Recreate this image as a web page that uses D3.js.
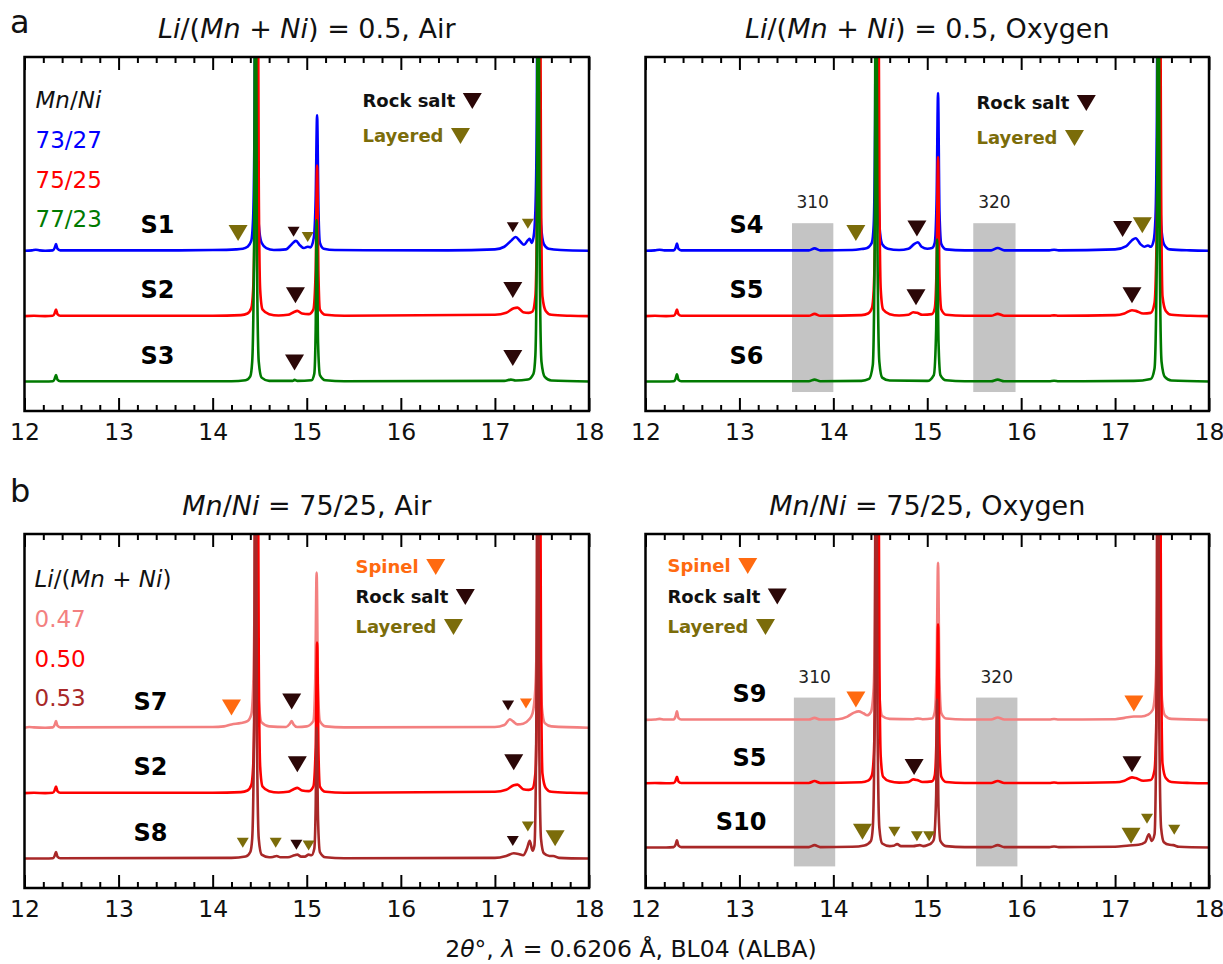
<!DOCTYPE html>
<html>
<head>
<meta charset="utf-8">
<script src="https://cdn.jsdelivr.net/npm/d3@7"></script>
<style>
  body { margin: 0; background: #fff; }
  text { font-family: "DejaVu Sans", sans-serif; }
</style>
</head>
<body>
<svg id="chart" width="1223" height="964"></svg>
<script>
// ---------- data (2theta, intensity above own baseline) ----------
const majorTicks = [12, 13, 14, 15, 16, 17, 18];

const s1 = [[12,0],[12.08,0.005],[12.12,0.015],[12.16,0.005],[12.22,0],[12.3,0.005],[12.32,0.04],[12.335,0.1],[12.35,0.03],[12.38,0.005],
  [13.5,0.005],[14.0,0.01],[14.25,0.02],[14.32,0.03],[14.37,0.06],[14.41,0.15],[14.43,0.5],[14.445,2],[14.46,9],[14.475,2],[14.49,0.4],[14.52,0.12],[14.57,0.04],[14.65,0.01],
  [14.78,0.02],[14.84,0.1],[14.885,0.15],[14.93,0.08],[14.97,0.04],[15.01,0.06],[15.04,0.05],[15.075,0.2],[15.095,0.8],[15.11,2.07],[15.125,0.6],[15.14,0.12],[15.18,0.03],[15.3,0.01],
  [16.5,0.005],[17.0,0.02],[17.1,0.06],[17.17,0.15],[17.22,0.21],[17.27,0.14],[17.31,0.09],[17.35,0.16],[17.37,0.18],[17.39,0.12],[17.41,0.2],[17.43,0.6],[17.445,2],[17.46,9],[17.475,2],[17.49,0.4],[17.52,0.1],[17.57,0.03],[17.7,0.01],[18,0]];

const s2 = [[12,0],[12.1,0.005],[12.22,0],[12.3,0.005],[12.32,0.04],[12.335,0.1],[12.35,0.03],[12.38,0.005],[14.0,0.005],[14.3,0.015],[14.37,0.04],[14.41,0.12],[14.43,0.4],[14.45,2],[14.47,9],[14.49,2],[14.505,0.4],[14.53,0.1],[14.6,0.03],[14.7,0.01],
  [14.8,0.02],[14.86,0.06],[14.9,0.08],[14.95,0.04],[15.02,0.03],[15.07,0.1],[15.095,0.7],[15.11,2.3],[15.125,0.6],[15.14,0.1],[15.2,0.02],[15.4,0.005],
  [17.0,0.02],[17.12,0.05],[17.2,0.12],[17.24,0.13],[17.3,0.06],[17.36,0.05],[17.4,0.07],[17.43,0.3],[17.45,2],[17.47,9],[17.49,2],[17.505,0.3],[17.54,0.08],[17.6,0.02],[17.8,0.005],[18,0]];

const s3 = [[12,0],[12.22,0],[12.3,0.005],[12.32,0.04],[12.335,0.1],[12.35,0.03],[12.38,0.005],[14.2,0.005],[14.35,0.02],[14.4,0.08],[14.42,0.3],[14.44,2],[14.455,9],[14.47,2],[14.49,0.3],[14.52,0.06],[14.6,0.01],
  [14.85,0.01],[14.87,0.025],[14.9,0.01],[15.05,0.02],[15.08,0.12],[15.095,0.8],[15.105,2.47],[15.12,0.6],[15.14,0.1],[15.2,0.02],[15.4,0.005],
  [17.1,0.01],[17.17,0.03],[17.22,0.015],[17.35,0.03],[17.41,0.12],[17.43,0.4],[17.445,2],[17.46,9],[17.475,2],[17.495,0.3],[17.53,0.07],[17.6,0.015],[18,0]];

const s4 = [[12,0],[12.1,0.005],[12.15,0.015],[12.2,0.005],[12.3,0.005],[12.32,0.04],[12.335,0.11],[12.35,0.03],[12.38,0.005],[13.0,0.005],[13.74,0.005],[13.8,0.035],[13.86,0.005],
  [14.2,0.01],[14.3,0.025],[14.36,0.04],[14.41,0.12],[14.43,0.4],[14.445,2],[14.46,9],[14.475,2],[14.49,0.4],[14.52,0.1],[14.58,0.03],[14.7,0.01],
  [14.8,0.03],[14.86,0.1],[14.9,0.13],[14.94,0.06],[15.0,0.03],[15.05,0.04],[15.08,0.12],[15.1,0.8],[15.115,2.41],[15.13,0.6],[15.15,0.1],[15.2,0.02],[15.4,0.005],
  [15.68,0.005],[15.75,0.04],[15.82,0.005],[16.3,0.005],[16.35,0.015],[16.4,0.005],
  [17.0,0.02],[17.12,0.07],[17.18,0.16],[17.22,0.19],[17.27,0.1],[17.31,0.06],[17.35,0.08],[17.38,0.06],[17.41,0.15],[17.43,0.5],[17.445,2],[17.46,9],[17.475,2],[17.49,0.4],[17.52,0.1],[17.58,0.02],[17.8,0.005],[18,0]];

const s5 = [[12,0],[12.1,0.005],[12.22,0],[12.3,0.005],[12.32,0.04],[12.335,0.1],[12.35,0.03],[12.38,0.005],[13,0.005],[13.74,0.005],[13.8,0.035],[13.86,0.005],
  [14.3,0.015],[14.37,0.04],[14.41,0.12],[14.43,0.4],[14.45,2],[14.47,9],[14.49,2],[14.505,0.4],[14.53,0.1],[14.6,0.03],[14.7,0.01],
  [14.8,0.02],[14.85,0.06],[14.89,0.05],[14.95,0.02],[15.05,0.03],[15.08,0.12],[15.1,0.8],[15.115,2.43],[15.13,0.6],[15.15,0.1],[15.2,0.02],[15.4,0.005],
  [15.68,0.005],[15.75,0.035],[15.82,0.005],[16.3,0.005],[16.35,0.012],[16.4,0.005],
  [17.0,0.015],[17.1,0.04],[17.18,0.09],[17.22,0.08],[17.3,0.04],[17.38,0.05],[17.42,0.2],[17.45,2],[17.47,9],[17.49,2],[17.505,0.3],[17.54,0.08],[17.6,0.02],[17.8,0.005],[18,0]];

const s6 = [[12,0],[12.22,0],[12.3,0.005],[12.32,0.04],[12.335,0.11],[12.35,0.03],[12.38,0.005],[13,0.005],[13.74,0.005],[13.8,0.03],[13.86,0.005],
  [14.3,0.01],[14.38,0.04],[14.42,0.25],[14.44,2],[14.455,9],[14.47,2],[14.49,0.3],[14.52,0.06],[14.6,0.015],
  [15.0,0.01],[15.07,0.1],[15.095,0.8],[15.105,2.17],[15.12,0.6],[15.14,0.1],[15.2,0.02],[15.4,0.005],
  [15.68,0.005],[15.75,0.03],[15.82,0.005],[16.3,0.005],[16.35,0.012],[16.4,0.005],
  [17.2,0.01],[17.38,0.04],[17.42,0.2],[17.445,2],[17.46,9],[17.475,2],[17.495,0.3],[17.53,0.07],[17.6,0.015],[18,0]];

const s7 = [[12,0],[12.05,0.01],[12.1,0.005],[12.22,0],[12.3,0.005],[12.32,0.04],[12.335,0.1],[12.35,0.03],[12.38,0.005],
  [14.0,0.01],[14.12,0.02],[14.2,0.05],[14.3,0.07],[14.37,0.1],[14.41,0.2],[14.43,0.6],[14.445,2],[14.46,9],[14.475,2],[14.49,0.4],[14.52,0.08],[14.6,0.02],
  [14.78,0.01],[14.82,0.06],[14.84,0.1],[14.86,0.05],[14.9,0.01],[15.0,0.02],[15.07,0.1],[15.09,0.7],[15.105,2.37],[15.12,0.6],[15.14,0.1],[15.2,0.02],[15.4,0.005],
  [17.0,0.01],[17.1,0.04],[17.16,0.13],[17.19,0.1],[17.24,0.05],[17.3,0.06],[17.36,0.12],[17.4,0.22],[17.43,0.6],[17.45,2],[17.465,9],[17.48,2],[17.5,0.3],[17.53,0.07],[17.6,0.02],[18,0]];

const s8 = [[12,0],[12.22,0],[12.3,0.005],[12.32,0.04],[12.335,0.1],[12.35,0.03],[12.38,0.005],
  [14.2,0.01],[14.35,0.03],[14.4,0.1],[14.42,0.3],[14.44,2],[14.455,9],[14.47,2],[14.49,0.3],[14.52,0.06],[14.6,0.02],[14.64,0.025],[14.68,0.04],[14.72,0.02],
  [14.8,0.02],[14.87,0.05],[14.9,0.06],[14.94,0.03],[14.98,0.03],[15.02,0.06],[15.05,0.05],[15.08,0.15],[15.095,0.8],[15.105,2.0],[15.12,0.6],[15.14,0.1],[15.2,0.02],[15.4,0.005],
  [17.0,0.01],[17.12,0.04],[17.2,0.08],[17.25,0.07],[17.3,0.05],[17.34,0.15],[17.37,0.27],[17.4,0.12],[17.42,0.2],[17.44,2],[17.455,9],[17.47,2],[17.49,0.3],[17.52,0.08],[17.58,0.04],[17.62,0.04],[17.68,0.01],[18,0]];

const s9 = [[12,0],[12.1,0.005],[12.15,0.015],[12.2,0.005],[12.3,0.005],[12.32,0.05],[12.335,0.13],[12.35,0.03],[12.38,0.005],[13.74,0.005],[13.8,0.03],[13.86,0.005],
  [14.05,0.01],[14.15,0.05],[14.22,0.11],[14.27,0.13],[14.32,0.1],[14.36,0.07],[14.4,0.12],[14.43,0.5],[14.445,2],[14.46,9],[14.475,2],[14.49,0.4],[14.52,0.06],[14.6,0.015],
  [14.85,0.01],[14.9,0.02],[14.95,0.01],[15.05,0.02],[15.08,0.12],[15.1,0.8],[15.115,2.4],[15.13,0.6],[15.15,0.1],[15.2,0.02],[15.4,0.005],
  [15.68,0.005],[15.75,0.035],[15.82,0.005],[16.3,0.005],[16.35,0.012],[16.4,0.005],
  [17.0,0.01],[17.1,0.03],[17.2,0.05],[17.28,0.05],[17.35,0.08],[17.4,0.15],[17.43,0.5],[17.45,2],[17.465,9],[17.48,2],[17.5,0.3],[17.53,0.07],[17.6,0.015],[18,0]];

const s10 = [[12,0],[12.22,0],[12.3,0.005],[12.32,0.04],[12.335,0.11],[12.35,0.03],[12.38,0.005],[13.74,0.005],[13.8,0.035],[13.86,0.005],
  [14.2,0.01],[14.33,0.03],[14.4,0.1],[14.42,0.3],[14.44,2],[14.455,9],[14.47,2],[14.49,0.3],[14.52,0.06],[14.6,0.02],[14.64,0.025],[14.68,0.05],[14.72,0.02],
  [14.85,0.02],[14.92,0.035],[14.96,0.02],[15.01,0.04],[15.04,0.06],[15.07,0.12],[15.095,0.8],[15.105,2.26],[15.12,0.6],[15.14,0.1],[15.2,0.02],[15.4,0.005],
  [15.68,0.005],[15.75,0.035],[15.82,0.005],[16.3,0.005],[16.35,0.015],[16.4,0.005],
  [17.0,0.01],[17.15,0.03],[17.25,0.04],[17.32,0.08],[17.36,0.2],[17.39,0.1],[17.42,0.2],[17.44,2],[17.455,9],[17.47,2],[17.49,0.3],[17.52,0.08],[17.58,0.04],[17.62,0.035],[17.68,0.01],[18,0]];

// vertical offsets of the three stacked patterns (top, middle, bottom)
const offsetsStd = [2, 1, 0];
const offsetsBR = [2.12, 1.15, 0.17];

// phase markers: [2theta, intensity, phase, size]
const markersAL = [[14.27,2.27,'Layered','big'],[14.86,2.29,'Rock salt','small'],[15.01,2.21,'Layered','small'],[17.19,2.36,'Rock salt','small'],[17.35,2.41,'Layered','small'],
  [14.88,1.32,'Rock salt','big'],[17.19,1.40,'Rock salt','big'],[14.87,0.29,'Rock salt','big'],[17.19,0.36,'Rock salt','big']];
const markersAR = [[14.24,2.27,'Layered','big'],[14.89,2.34,'Rock salt','big'],[17.08,2.33,'Rock salt','big'],[17.29,2.39,'Layered','big'],
  [14.88,1.29,'Rock salt','big'],[17.18,1.32,'Rock salt','big']];
const markersBL = [[14.20,2.31,'Spinel','big'],[14.84,2.40,'Rock salt','big'],[17.14,2.34,'Rock salt','small'],[17.33,2.37,'Spinel','small'],
  [14.90,1.44,'Rock salt','big'],[17.20,1.47,'Rock salt','big'],
  [14.32,0.24,'Layered','small'],[14.67,0.24,'Layered','small'],[14.89,0.21,'Rock salt','small'],[15.02,0.20,'Layered','small'],[17.19,0.27,'Rock salt','small'],[17.35,0.49,'Layered','small'],[17.64,0.31,'Layered','big']];
const markersBR = [[14.24,2.43,'Spinel','big'],[17.20,2.37,'Spinel','big'],[14.86,1.40,'Rock salt','big'],[17.18,1.44,'Rock salt','big'],
  [14.31,0.41,'Layered','big'],[14.65,0.41,'Layered','small'],[14.89,0.34,'Layered','small'],[15.02,0.34,'Layered','small'],[17.17,0.35,'Layered','big'],[17.34,0.61,'Layered','small'],[17.63,0.44,'Layered','small']];

// highlighted reflections: [label, from, to, yLow, yHigh]
const boxesAR = [['310',13.56,14.0,-0.16,2.42],['320',15.49,15.94,-0.16,2.42]];
const boxesBR = [['310',13.58,14.02,-0.12,2.46],['320',15.52,15.96,-0.12,2.46]];

// ---------- styles ----------
const phaseColor = { 'Spinel': '#ff6a10', 'Rock salt': '#2b0707', 'Layered': '#7b6c0a' };
const phaseText = { 'Spinel': '#ff6a10', 'Rock salt': '#111', 'Layered': '#7b6c0a' };
const triSize = { big: [19, 16], small: [12, 10] };

const panels = [
  { x0: 24.5, x1: 589, y0: 57, y1: 411,
    title: [['Li', 1], ['/(', 0], ['Mn', 1], [' + ', 0], ['Ni', 1], [') = 0.5, Air', 0]],
    traces: [['S1', s1, '#0000ff'], ['S2', s2, '#ff0000'], ['S3', s3, '#007a00']], offsets: offsetsStd,
    labelDx: 150, markers: markersAL, boxes: [],
    legendHead: [['Mn', 1], ['/', 0], ['Ni', 1]], legendItems: ['73/27', '75/25', '77/23'], legendX: 11, legendY: 51,
    phases: ['Rock salt', 'Layered'], phaseX: 338, phaseY: 44, phaseStep: 35 },
  { x0: 645.5, x1: 1209, y0: 57, y1: 411,
    title: [['Li', 1], ['/(', 0], ['Mn', 1], [' + ', 0], ['Ni', 1], [') = 0.5, Oxygen', 0]],
    traces: [['S4', s4, '#0000ff'], ['S5', s5, '#ff0000'], ['S6', s6, '#007a00']], offsets: offsetsStd,
    labelDx: 118, markers: markersAR, boxes: boxesAR,
    phases: ['Rock salt', 'Layered'], phaseX: 331, phaseY: 46, phaseStep: 35 },
  { x0: 24.5, x1: 589, y0: 534, y1: 888,
    title: [['Mn', 1], ['/', 0], ['Ni', 1], [' = 75/25, Air', 0]],
    traces: [['S7', s7, '#f38080'], ['S2', s2, '#ff0000'], ['S8', s8, '#a82828']], offsets: offsetsStd,
    labelDx: 143, markers: markersBL, boxes: [],
    legendHead: [['Li', 1], ['/(', 0], ['Mn', 1], [' + ', 0], ['Ni', 1], [')', 0]], legendItems: ['0.47', '0.50', '0.53'], legendX: 10, legendY: 53,
    phases: ['Spinel', 'Rock salt', 'Layered'], phaseX: 331, phaseY: 33, phaseStep: 30 },
  { x0: 645.5, x1: 1209, y0: 534, y1: 888,
    title: [['Mn', 1], ['/', 0], ['Ni', 1], [' = 75/25, Oxygen', 0]],
    traces: [['S9', s9, '#f38080'], ['S5', s5, '#ff0000'], ['S10', s10, '#a82828']], offsets: offsetsBR,
    labelDx: 121, markers: markersBR, boxes: boxesBR,
    phases: ['Spinel', 'Rock salt', 'Layered'], phaseX: 22, phaseY: 32, phaseStep: 30.5 }
];

const svg = d3.select('#chart');

function richText(sel, parts) {
  parts.forEach(([t, it]) => sel.append('tspan').attr('font-style', it ? 'italic' : 'normal').text(t));
  return sel;
}

function triPath(w, h) {
  return `M${-w / 2},${-h / 2}L${w / 2},${-h / 2}L0,${h / 2}Z`;
}

panels.forEach((p, i) => {
  const x = d3.scaleLinear().domain([12, 18]).range([p.x0, p.x1]);
  const y = d3.scaleLinear().domain([-0.45, 4.96]).range([p.y1, p.y0]);
  const g = svg.append('g');

  const clipId = 'clip' + i;
  svg.append('clipPath').attr('id', clipId).append('rect')
    .attr('x', p.x0).attr('y', p.y0).attr('width', p.x1 - p.x0).attr('height', p.y1 - p.y0);

  // highlighted reflection boxes
  p.boxes.forEach(([lab, a, b, lo, hi]) => {
    g.append('rect').attr('x', x(a)).attr('width', x(b) - x(a))
      .attr('y', y(hi)).attr('height', y(lo) - y(hi)).attr('fill', '#c4c4c4');
    g.append('text').attr('x', x((a + b) / 2)).attr('y', y(hi) - 15)
      .attr('text-anchor', 'middle').attr('font-size', 17).attr('fill', '#222').text(lab);
  });

  // diffraction patterns
  const line = d3.line().curve(d3.curveMonotoneX);
  const plot = g.append('g').attr('clip-path', `url(#${clipId})`);
  p.traces.forEach(([name, pts, color], k) => {
    const off = p.offsets[k];
    plot.append('path')
      .attr('d', line(pts.map(d => [x(d[0]), y(d[1] + off)])))
      .attr('fill', 'none').attr('stroke', color).attr('stroke-width', 2.6)
      .attr('stroke-linejoin', 'round');
    g.append('text').attr('x', p.x0 + p.labelDx).attr('y', y(off + 0.27))
      .attr('text-anchor', 'end').attr('font-weight', 'bold').attr('font-size', 24).text(name);
  });

  // phase markers
  g.selectAll('path.mk').data(p.markers).enter().append('path')
    .attr('class', 'mk')
    .attr('transform', d => `translate(${x(d[0])},${y(d[1])})`)
    .attr('d', d => triPath(...triSize[d[3]]))
    .attr('fill', d => phaseColor[d[2]]);

  // frame
  g.append('rect').attr('x', p.x0).attr('y', p.y0).attr('width', p.x1 - p.x0).attr('height', p.y1 - p.y0)
    .attr('fill', 'none').attr('stroke', '#000').attr('stroke-width', 2.5);

  // x axes (ticks inside, top and bottom)
  const minor = d3.range(12, 18.001, 0.2).filter(v => Math.abs(v - Math.round(v)) > 0.01);
  const axB = g.append('g').attr('transform', `translate(0,${p.y1})`)
    .call(d3.axisBottom(x).tickValues(majorTicks).tickSize(-13).tickPadding(12).tickFormat(d3.format('d')));
  axB.selectAll('text').attr('font-size', 23.5).attr('fill', '#111').style('font-family', '"DejaVu Sans", sans-serif');
  g.append('g').attr('transform', `translate(0,${p.y1})`)
    .call(d3.axisBottom(x).tickValues(minor).tickSize(-6).tickFormat(''));
  g.append('g').attr('transform', `translate(0,${p.y0})`)
    .call(d3.axisTop(x).tickValues(majorTicks).tickSize(-13).tickFormat(''));
  g.append('g').attr('transform', `translate(0,${p.y0})`)
    .call(d3.axisTop(x).tickValues(minor).tickSize(-6).tickFormat(''));
  g.selectAll('.domain').remove();
  g.selectAll('.tick line').attr('stroke', '#000').attr('stroke-width', 2);

  // title
  richText(g.append('text').attr('x', (p.x0 + p.x1) / 2).attr('y', p.y0 - 19)
    .attr('text-anchor', 'middle').attr('font-size', 27).attr('fill', '#111'), p.title);

  // composition legend
  if (p.legendHead) {
    richText(g.append('text').attr('x', p.x0 + p.legendX).attr('y', p.y0 + p.legendY)
      .attr('font-size', 23).attr('fill', '#111'), p.legendHead);
    p.legendItems.forEach((t, k) => {
      g.append('text').attr('x', p.x0 + p.legendX).attr('y', p.y0 + p.legendY + 40 + k * 39.5)
        .attr('font-size', 23).attr('fill', p.traces[k][2]).text(t);
    });
  }

  // phase legend
  p.phases.forEach((ph, k) => {
    const ty = p.y0 + p.phaseY + k * p.phaseStep;
    const t = g.append('text').attr('x', p.x0 + p.phaseX).attr('y', ty).attr('dy', '0.35em')
      .attr('font-size', 18).attr('font-weight', 'bold').attr('fill', phaseText[ph]).text(ph);
    const w = t.node().getComputedTextLength();
    g.append('path').attr('transform', `translate(${p.x0 + p.phaseX + w + 17},${ty})`)
      .attr('d', triPath(...triSize.big)).attr('fill', phaseColor[ph]);
  });
});

// panel letters
svg.append('text').attr('x', 10).attr('y', 33).attr('font-size', 32).attr('fill', '#111').text('a');
svg.append('text').attr('x', 10).attr('y', 502).attr('font-size', 32).attr('fill', '#111').text('b');

// common x label
richText(svg.append('text').attr('x', 631).attr('y', 957).attr('text-anchor', 'middle')
  .attr('font-size', 23.5).attr('fill', '#111'),
  [['2', 0], ['θ', 1], ['°, ', 0], ['λ', 1], [' = 0.6206 Å, BL04 (ALBA)', 0]]);
</script>
</body>
</html>
